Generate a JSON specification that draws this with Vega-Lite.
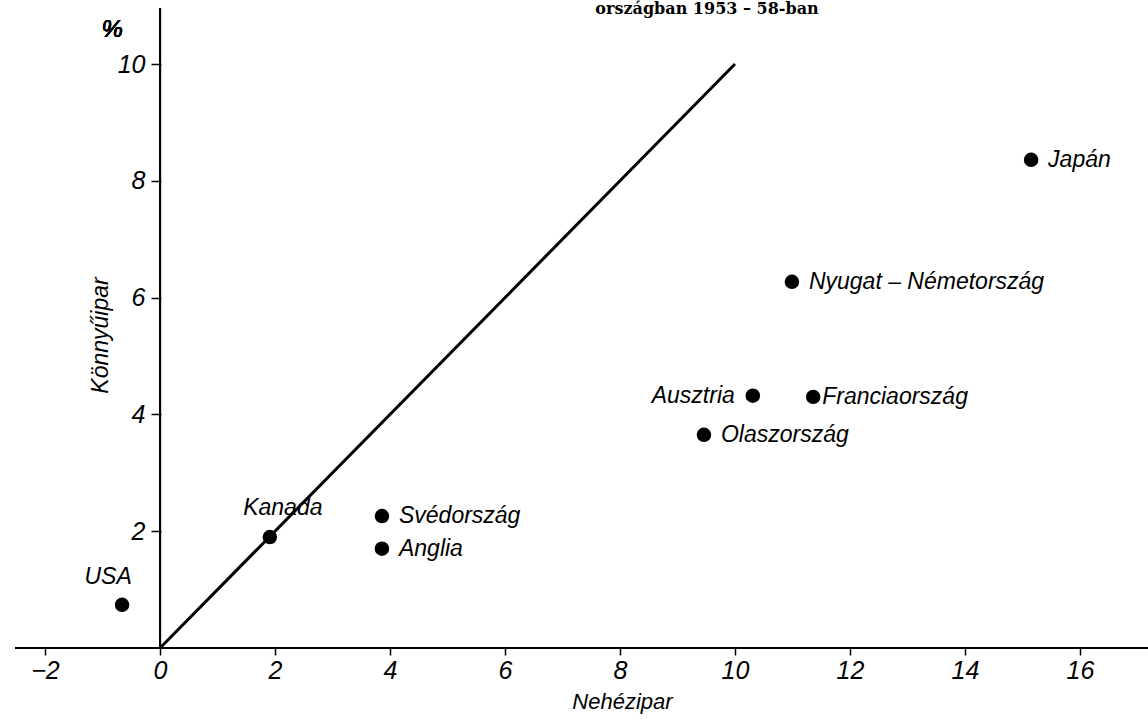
{
  "$schema": "https://vega.github.io/schema/vega-lite/v6.json",
  "width": 1148,
  "height": 719,
  "autosize": {"type": "none"},
  "padding": 0,
  "background": "white",
  "title": {
    "text": "országban 1953 – 58-ban",
    "font": "DejaVu Serif",
    "fontWeight": "bold",
    "fontSize": 16,
    "color": "black",
    "anchor": "middle",
    "dx": 133,
    "offset": -30,
    "baseline": "alphabetic",
    "frame": "group"
  },
  "config": {"view": {"stroke": null}, "axis": {"grid": false}},
  "datasets": {
    "countries": [
      {"country": "USA", "nehezipar": -0.66, "konnyuipar": 0.74},
      {"country": "Kanada", "nehezipar": 1.91, "konnyuipar": 1.9},
      {"country": "Svédország", "nehezipar": 3.86, "konnyuipar": 2.26},
      {"country": "Anglia", "nehezipar": 3.86, "konnyuipar": 1.7},
      {"country": "Olaszország", "nehezipar": 9.46, "konnyuipar": 3.65},
      {"country": "Ausztria", "nehezipar": 10.31, "konnyuipar": 4.32},
      {"country": "Franciaország", "nehezipar": 11.36, "konnyuipar": 4.3},
      {"country": "Nyugat – Németország", "nehezipar": 10.99, "konnyuipar": 6.27},
      {"country": "Japán", "nehezipar": 15.15, "konnyuipar": 8.36}
    ],
    "diag": [
      {"nehezipar": 0, "konnyuipar": 0},
      {"nehezipar": 10, "konnyuipar": 10}
    ]
  },
  "data": {"name": "countries"},
  "layer": [
    {
      "mark": {"type": "circle", "color": "black", "size": 210, "opacity": 1},
      "encoding": {
        "x": {
          "field": "nehezipar",
          "type": "quantitative",
          "scale": {"domain": [-2.783, 17.183], "nice": false, "zero": false},
          "axis": {
            "title": "Nehézipar",
            "orient": "bottom",
            "offset": -71,
            "values": [-2, 0, 2, 4, 6, 8, 10, 12, 14, 16],
            "format": "d",
            "domain": false,
            "tickSize": 7,
            "tickWidth": 1.5,
            "tickColor": "black",
            "labelFont": "Liberation Sans",
            "labelFontStyle": "italic",
            "labelFontSize": 25,
            "labelColor": "black",
            "labelPadding": 3,
            "labelFlush": false,
            "labelOverlap": false,
            "titleFont": "Liberation Sans",
            "titleFontStyle": "italic",
            "titleFontWeight": "normal",
            "titleFontSize": 22,
            "titleColor": "black",
            "titleX": 622,
            "titleY": 60,
            "titleBaseline": "alphabetic"
          }
        },
        "y": {
          "field": "konnyuipar",
          "type": "quantitative",
          "scale": {"domain": [-1.216, 11.096], "nice": false, "zero": false},
          "axis": {
            "title": "Könnyűipar",
            "orient": "left",
            "offset": -161,
            "values": [2, 4, 6, 8, 10],
            "format": "d",
            "domain": false,
            "tickSize": 10,
            "tickWidth": 1.5,
            "tickColor": "black",
            "labelFont": "Liberation Sans",
            "labelFontStyle": "italic",
            "labelFontSize": 25,
            "labelColor": "black",
            "labelPadding": 6,
            "labelOverlap": false,
            "titleFont": "Liberation Sans",
            "titleFontStyle": "italic",
            "titleFontWeight": "normal",
            "titleFontSize": 23,
            "titleColor": "black",
            "titleAngle": -90,
            "titleX": -61,
            "titleY": 335,
            "titleBaseline": "middle"
          }
        }
      }
    },
    {
      "mark": {"type": "rule", "color": "black", "strokeWidth": 2},
      "encoding": {"x": {"datum": 0}, "y": {"datum": 0}, "y2": {"datum": 10.96}}
    },
    {
      "mark": {"type": "rule", "color": "black", "strokeWidth": 2},
      "encoding": {"x": {"datum": -2.52}, "x2": {"datum": 17.2}, "y": {"datum": 0}}
    },
    {
      "data": {"name": "diag"},
      "mark": {"type": "line", "color": "black", "strokeWidth": 3},
      "encoding": {
        "x": {"field": "nehezipar", "type": "quantitative"},
        "y": {"field": "konnyuipar", "type": "quantitative"}
      }
    },
    {
      "mark": {"type": "text", "font": "Liberation Sans", "fontStyle": "italic", "fontWeight": "normal", "fontSize": 24, "color": "black"},
      "encoding": {"x": {"datum": -0.83}, "y": {"datum": 10.58}, "text": {"value": "%"}}
    },
    {
      "transform": [{"filter": {"field": "country", "oneOf": ["Svédország", "Anglia", "Nyugat – Németország", "Olaszország", "Japán"]}}],
      "mark": {"type": "text", "align": "left", "baseline": "middle", "dx": 17, "font": "Liberation Sans", "fontStyle": "italic", "fontSize": 23, "color": "black"},
      "encoding": {
        "x": {"field": "nehezipar", "type": "quantitative"},
        "y": {"field": "konnyuipar", "type": "quantitative"},
        "text": {"field": "country"}
      }
    },
    {
      "transform": [{"filter": {"field": "country", "equal": "Franciaország"}}],
      "mark": {"type": "text", "align": "left", "baseline": "middle", "dx": 9, "font": "Liberation Sans", "fontStyle": "italic", "fontSize": 23, "color": "black"},
      "encoding": {
        "x": {"field": "nehezipar", "type": "quantitative"},
        "y": {"field": "konnyuipar", "type": "quantitative"},
        "text": {"field": "country"}
      }
    },
    {
      "transform": [{"filter": {"field": "country", "equal": "Ausztria"}}],
      "mark": {"type": "text", "align": "right", "baseline": "middle", "dx": -18, "font": "Liberation Sans", "fontStyle": "italic", "fontSize": 23, "color": "black"},
      "encoding": {
        "x": {"field": "nehezipar", "type": "quantitative"},
        "y": {"field": "konnyuipar", "type": "quantitative"},
        "text": {"field": "country"}
      }
    },
    {
      "transform": [{"filter": {"field": "country", "equal": "USA"}}],
      "mark": {"type": "text", "align": "center", "baseline": "middle", "dx": -14, "dy": -28, "font": "Liberation Sans", "fontStyle": "italic", "fontSize": 23, "color": "black"},
      "encoding": {
        "x": {"field": "nehezipar", "type": "quantitative"},
        "y": {"field": "konnyuipar", "type": "quantitative"},
        "text": {"field": "country"}
      }
    },
    {
      "transform": [{"filter": {"field": "country", "equal": "Kanada"}}],
      "mark": {"type": "text", "align": "center", "baseline": "middle", "dx": 13, "dy": -29, "font": "Liberation Sans", "fontStyle": "italic", "fontSize": 23, "color": "black"},
      "encoding": {
        "x": {"field": "nehezipar", "type": "quantitative"},
        "y": {"field": "konnyuipar", "type": "quantitative"},
        "text": {"field": "country"}
      }
    }
  ]
}
